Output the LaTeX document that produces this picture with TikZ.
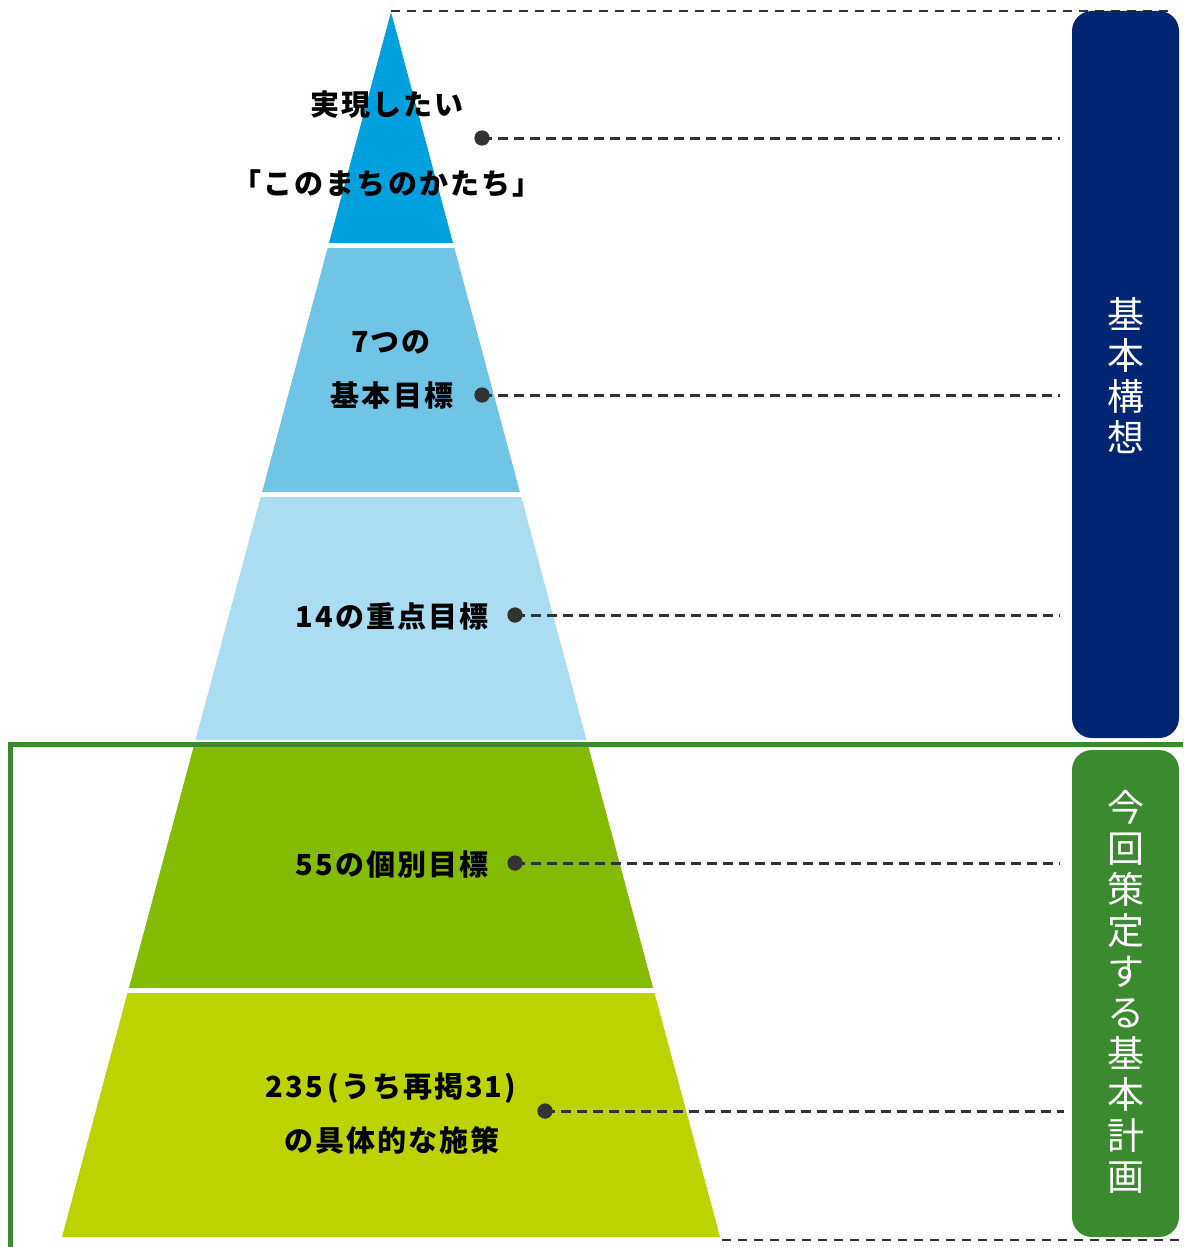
\documentclass[tikz,border=0pt]{standalone}
\usepackage{fontspec}
\newfontfamily\jp{Noto Sans CJK JP}
\newfontfamily\jpl[LetterSpace=7]{Noto Sans CJK JP}
\definecolor{lay1}{HTML}{00A0DE}
\definecolor{lay2}{HTML}{70C5E6}
\definecolor{lay3}{HTML}{AADDF1}
\definecolor{lay4}{HTML}{84BA00}
\definecolor{lay5}{HTML}{BCD300}
\definecolor{navy}{HTML}{002673}
\definecolor{grn}{HTML}{3B8A2F}
\definecolor{dk}{HTML}{333333}
\tikzset{
  lbl/.style={font=\jpl\bfseries\fontsize{29}{32}\selectfont, text=black, inner sep=0pt, align=center},
  vtxt/.style={font=\jp\fontsize{37}{41}\selectfont, text=white, inner sep=0pt, align=center},
  dotn/.style={circle, fill=dk, minimum size=15pt, inner sep=0pt},
  lead/.style={dk, line width=3pt, dash pattern=on 10pt off 6pt},
  guide/.style={dk, line width=2pt, dash pattern=on 9pt off 7pt},
}
\begin{document}
\begin{tikzpicture}[x=1pt,y=-1pt]
\useasboundingbox (0,0) rectangle (1183,1247);
% guide dashed lines
\coordinate (apex) at (391,11);
\coordinate (topend) at (1172,11);
\draw[guide] (apex) -- (topend);
% pyramid layers
\fill[lay1] (391,12) -- (453,243) -- (329,243) -- cycle;
\fill[lay2] (327.6,248) -- (454.4,248) -- (519.9,492) -- (262.1,492) -- cycle;
\fill[lay3] (260.7,497) -- (521.3,497) -- (586.5,740) -- (195.5,740) -- cycle;
\fill[lay4] (194.1,745) -- (587.9,745) -- (653.1,988) -- (128.9,988) -- cycle;
\fill[lay5] (127.5,993) -- (654.5,993) -- (720,1237) -- (62,1237) -- cycle;
% boxes
\node[fill=navy, rounded corners=20pt, minimum width=107pt, minimum height=727pt, inner sep=0pt] (box1) at (1125.5,374.5) {};
\node[fill=grn, rounded corners=20pt, minimum width=107pt, minimum height=487pt, inner sep=0pt] (box2) at (1125.5,993.5) {};
\node[vtxt] at ([yshift=-1pt]box1.center) {基\\本\\構\\想};
\node[vtxt] at ([yshift=2pt]box2.center) {今\\回\\策\\定\\す\\る\\基\\本\\計\\画};
% bottom dashed
\coordinate (botstart) at (722,1240);
\coordinate (botend) at (1183,1240);
\draw[guide] (botstart) -- (botend);
% green frame
\draw[grn, line width=5pt] (1183,744) -- (10,744) -- (10,1250);
% labels
\node[lbl] (t1a) at (387,105) {実現したい};
\node[lbl] (t1b) at (387,183) {「このまちのかたち」};
\node[lbl] (t2a) at (391,342) {7つの};
\node[lbl] (t2b) at (392,395) {基本目標};
\node[lbl] (t3) at (392,616) {14の重点目標};
\node[lbl] (t4) at (392,864) {55の個別目標};
\node[lbl] (t5a) at (391,1088) {235\,(うち再掲31)};
\node[lbl] (t5b) at (392,1140) {の具体的な施策};
% dots and leaders
\node[dotn] (d1) at (482,138) {};
\node[dotn] (d2) at (482,395) {};
\node[dotn] (d3) at (515,615) {};
\node[dotn] (d4) at (515,863) {};
\node[dotn] (d5) at (545,1111) {};
\coordinate (e1) at (1060,138);
\coordinate (e2) at (1060,395);
\coordinate (e3) at (1060,615);
\coordinate (e4) at (1060,863);
\coordinate (e5) at (1064,1111);
\foreach \i in {1,...,5} \draw[lead] (d\i.center) -- (e\i);
\foreach \i in {1,...,5} \node[dotn] at (d\i) {};
\end{tikzpicture}
\end{document}
